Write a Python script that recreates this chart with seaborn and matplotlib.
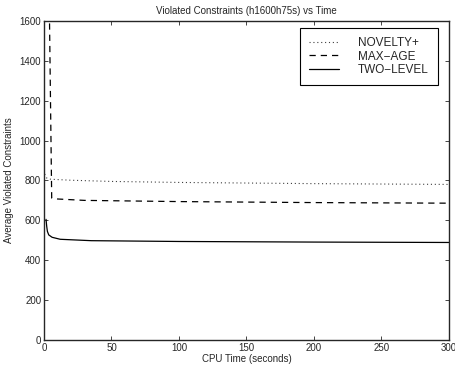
import pandas as pd
import matplotlib
matplotlib.use('Agg')
import matplotlib.pyplot as plt
import seaborn as sns

# values (time in seconds, avg violated constraints)
novelty_t = [0.5, 2, 5, 20, 50, 100, 200, 300]
novelty_v = [832, 812, 806, 801, 795, 790, 784, 780]

maxage_t = [3.9, 5.7, 10, 30, 100, 200, 300]
maxage_v = [1700, 712, 707, 700, 694, 689, 686]

twolevel_t = [1.5, 2, 2.5, 3.5, 6, 12, 35, 100, 200, 300]
twolevel_v = [605, 570, 545, 527, 515, 505, 498, 494, 491, 489]

sns.set_style('ticks')
plt.rcParams['font.family'] = ['Liberation Sans', 'DejaVu Sans']
plt.rcParams['xtick.direction'] = 'in'
plt.rcParams['ytick.direction'] = 'in'

fig = plt.figure(figsize=(4.56, 3.66), dpi=100)
ax = fig.add_axes([0.0965, 0.071, 0.888, 0.872])

sns.lineplot(x=novelty_t, y=novelty_v, ax=ax, color='0.25', linestyle=(0, (1, 2.5)), linewidth=0.8, label='NOVELTY+')
sns.lineplot(x=maxage_t, y=maxage_v, ax=ax, color='black', linestyle=(0, (5, 4)), linewidth=0.9, label='MAX\u2212AGE')
sns.lineplot(x=twolevel_t, y=twolevel_v, ax=ax, color='black', linestyle='-', linewidth=0.9, label='TWO\u2212LEVEL')

ax.set_xlim(0, 300)
ax.set_ylim(0, 1600)
ax.set_xticks([0, 50, 100, 150, 200, 250, 300])
ax.set_yticks([0, 200, 400, 600, 800, 1000, 1200, 1400, 1600])
ax.xaxis.set_ticks_position('both')
ax.yaxis.set_ticks_position('both')
ax.tick_params(labelsize=7, length=3, width=0.6, pad=2)
for s in ax.spines.values():
    s.set_linewidth(1.0)
    s.set_visible(True)

ax.set_title('Violated Constraints (h1600h75s) vs Time', fontsize=7, pad=5)
ax.set_xlabel('CPU Time (seconds)', fontsize=7, labelpad=1)
ax.set_ylabel('Average Violated Constraints', fontsize=7, labelpad=4)

leg = ax.legend(loc='upper right', fontsize=8.5, frameon=True, fancybox=False,
                edgecolor='black', framealpha=1, handlelength=2.5, borderpad=0.8,
                labelspacing=0.1, handletextpad=1.6, borderaxespad=0,
                bbox_to_anchor=(0.973, 0.978))
leg.get_frame().set_linewidth(0.8)

fig.savefig('out.png', dpi=100)
